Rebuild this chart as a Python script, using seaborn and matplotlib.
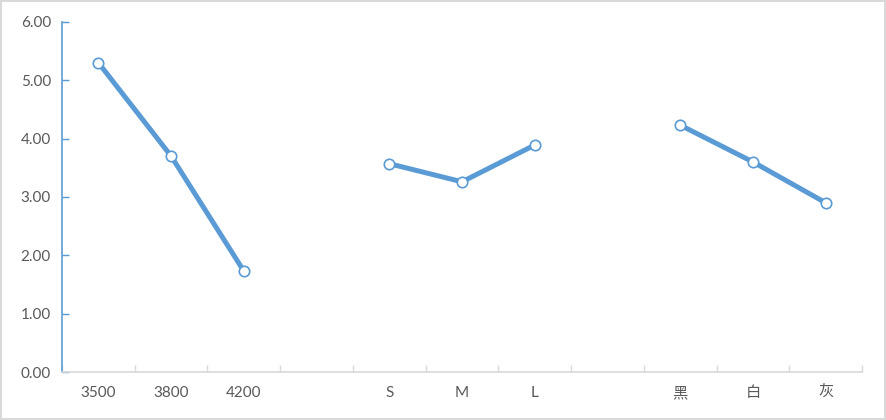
import numpy as np
import pandas as pd
import seaborn as sns
import matplotlib.pyplot as plt

# category slots on the x axis, blanks separate the three groups
labels = ['3500', '3800', '4200', '', 'S', 'M', 'L', '', '黑', '白', '灰']
price = ['3500', '3800', '4200']
price_vals = [5.30, 3.70, 1.73]
size = ['S', 'M', 'L']
size_vals = [3.57, 3.26, 3.89]
color = ['黑', '白', '灰']
color_vals = [4.23, 3.60, 2.90]

sns.set_theme(style='white')
plt.rcParams['font.family'] = ['Lato', 'Noto Sans CJK SC', 'DejaVu Sans']

rows = []
for grp, cats, vals in [('price', price, price_vals), ('size', size, size_vals), ('color', color, color_vals)]:
    for c, v in zip(cats, vals):
        rows.append({'group': grp, 'pos': labels.index(c), 'value': v})
df = pd.DataFrame(rows)

blue = '#5B9BD5'
fig = plt.figure(figsize=(8.86, 4.2), dpi=100, linewidth=1.5, edgecolor='#d9d9d9')
ax = fig.add_axes([0.070, 0.114, 0.903, 0.834])

sns.lineplot(data=df, x='pos', y='value', units='group', estimator=None,
             color=blue, linewidth=3.6, marker='o', markersize=7.5,
             markerfacecolor='white', markeredgecolor=blue, markeredgewidth=1.2,
             ax=ax)

ax.set_xlim(-0.5, len(labels) - 0.5)
ax.set_ylim(0, 6)
ax.set_yticks(np.arange(0, 7, 1))
ax.set_yticklabels([f'{v:.2f}' for v in np.arange(0, 7, 1)])
ax.set_xticks(range(len(labels)))
ax.set_xticklabels(labels)
ax.set_xticks(np.arange(-0.5, len(labels), 1), minor=True)
ax.tick_params(axis='x', which='major', length=0, pad=10, labelsize=11, labelcolor='#595959')
ax.tick_params(axis='x', which='minor', direction='in', length=5, color='#d9d9d9', width=1, bottom=True)
ax.tick_params(axis='y', direction='in', length=5, color=blue, width=1, left=True, labelsize=11,
               labelcolor='#595959', pad=8)
ax.set_xlabel('')
ax.set_ylabel('')

for s in ['top', 'right']:
    ax.spines[s].set_visible(False)
ax.spines['left'].set_color(blue)
ax.spines['left'].set_linewidth(1.2)
ax.spines['bottom'].set_color('#d9d9d9')
ax.spines['bottom'].set_linewidth(1.2)

fig.savefig('out.png', dpi=100, edgecolor=fig.get_edgecolor())
